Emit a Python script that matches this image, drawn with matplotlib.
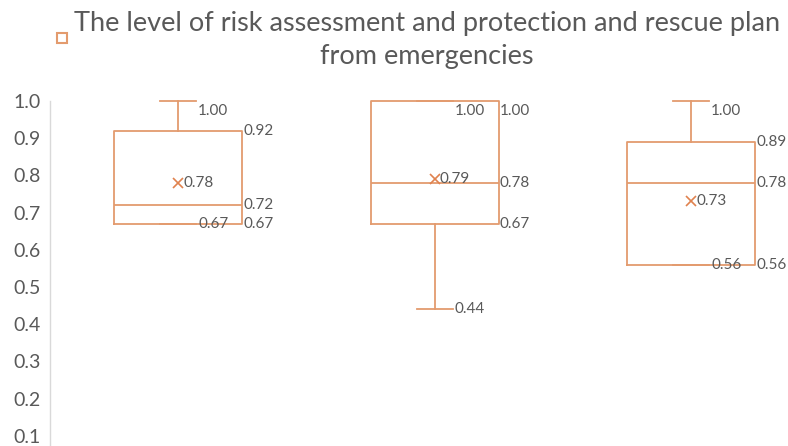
import matplotlib
matplotlib.use("Agg")
from matplotlib import pyplot as plt
from matplotlib.patches import Rectangle

# box statistics per group
positions = [1, 2, 3]
mins = [0.67, 0.44, 0.56]
q1s = [0.67, 0.67, 0.56]
medians = [0.72, 0.78, 0.78]
q3s = [0.92, 1.00, 0.89]
maxs = [1.00, 1.00, 1.00]
means = [0.78, 0.79, 0.73]
yticks = [0.1, 0.2, 0.3, 0.4, 0.5, 0.6, 0.7, 0.8, 0.9, 1.0]
title = "The level of risk assessment and protection and rescue plan\nfrom emergencies"

line_color = "#E39B6E"
mean_color = "#E0824E"
text_color = "#595959"
font = "Lato"

fig = plt.figure(figsize=(7.88, 4.46), dpi=100)
ax = fig.add_axes([50 / 788, -27 / 446, 738 / 788, 372 / 446])

stats = []
for i in range(len(positions)):
    stats.append(dict(whislo=mins[i], q1=q1s[i], med=medians[i], q3=q3s[i],
                      whishi=maxs[i], mean=means[i], fliers=[]))

box_w = 0.5
cap_w = 0.14
parts = ax.bxp(stats, positions=positions, widths=box_w, showmeans=True,
               showfliers=False, capwidths=cap_w,
               boxprops=dict(color=line_color, linewidth=1.3),
               medianprops=dict(color=line_color, linewidth=1.3),
               whiskerprops=dict(color=line_color, linewidth=1.3),
               capprops=dict(color=line_color, linewidth=1.3),
               meanprops=dict(marker="x", markeredgecolor=mean_color, markersize=7,
                              markeredgewidth=1.2))
for group in parts.values():
    for artist in group:
        artist.set_clip_on(False)

def put(x, y, v):
    ax.text(x, min(y, 0.973), f"{v:.2f}", ha="left", va="center",
            fontsize=11, color=text_color, family=font)

for i, p in enumerate(positions):
    for v in (q1s[i], medians[i], q3s[i]):
        put(p + box_w / 2 + 0.004, v, v)
    for v in (mins[i], maxs[i]):
        put(p + cap_w / 2 + 0.008, v, v)
    put(p + 0.02, means[i], means[i])

ax.set_ylim(0, 1.0)
ax.set_xlim(0.5, 0.5 + 738 / 256.5)
ax.set_yticks(yticks)
ax.set_yticklabels([f"{t:.1f}" for t in yticks], fontsize=14, color=text_color,
                   family=font)
ax.tick_params(axis="y", length=0, pad=7)
ax.set_xticks([])
for s in ("top", "right", "bottom"):
    ax.spines[s].set_visible(False)
ax.spines["left"].set_color("#D9D9D9")
ax.spines["left"].set_linewidth(1.0)

fig.text(427 / 788, 1 - 40 / 446, title, ha="center", va="center", fontsize=19.5,
         color=text_color, family=font, linespacing=1.4)
fig.add_artist(Rectangle((57 / 788, 1 - 43 / 446), 10 / 788, 10 / 446,
                         transform=fig.transFigure, fill=False,
                         edgecolor=line_color, linewidth=1.5))

fig.savefig("out.png", dpi=100)
